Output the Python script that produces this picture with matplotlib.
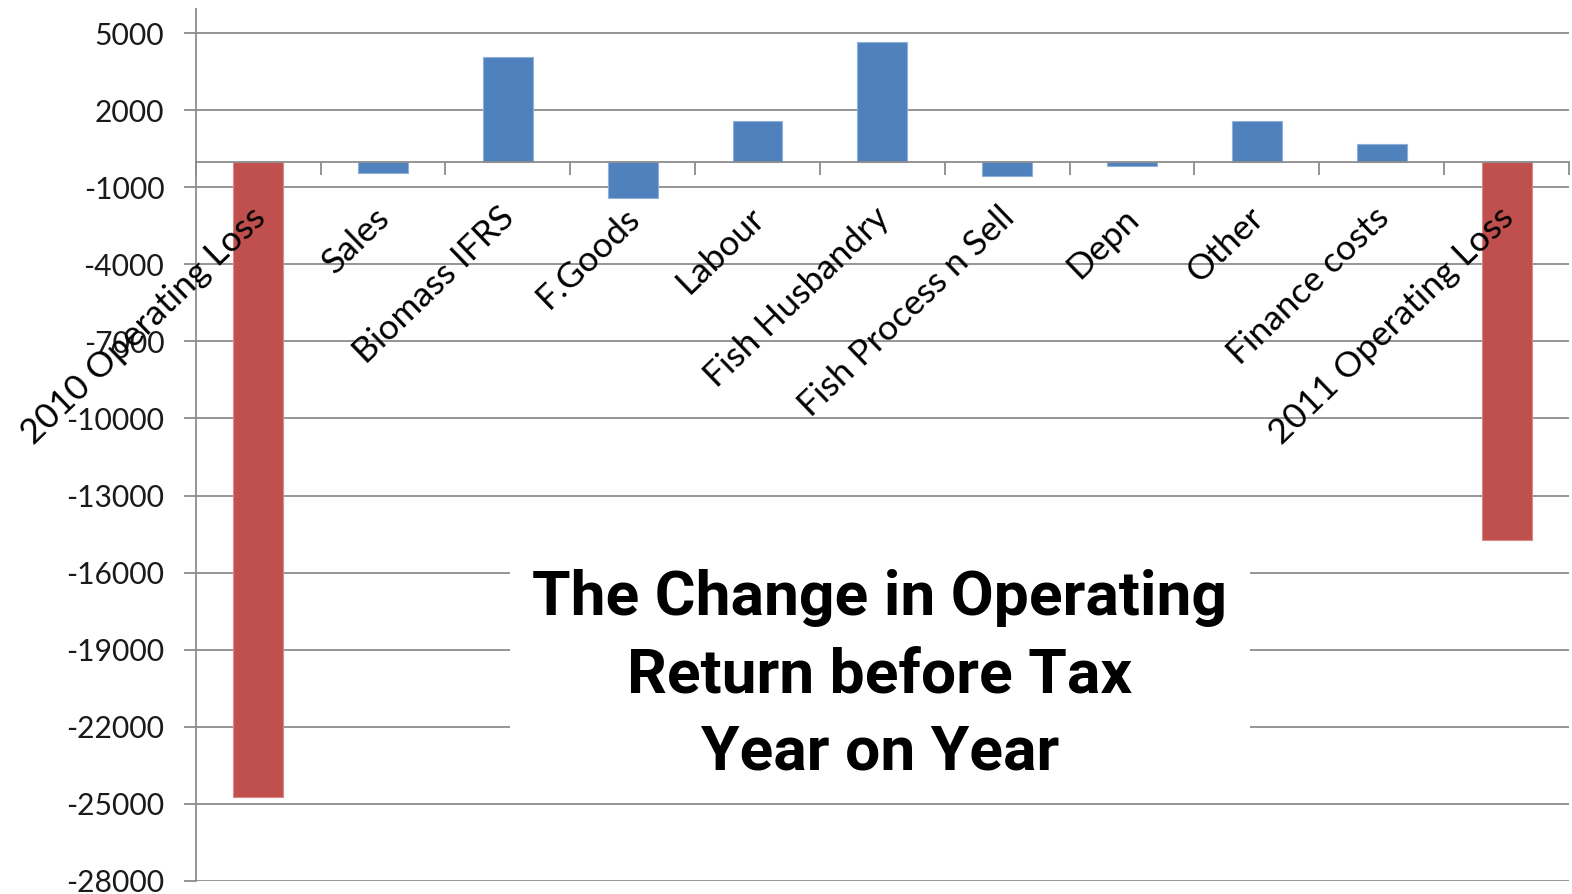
import matplotlib
matplotlib.use('Agg')
import matplotlib.pyplot as plt
from matplotlib import font_manager
from matplotlib.patches import Rectangle
from matplotlib.transforms import ScaledTranslation
import numpy as np

# data
categories = ['2010 Operating Loss', 'Sales', 'Biomass IFRS', 'F.Goods', 'Labour',
              'Fish Husbandry', 'Fish Process n Sell', 'Depn', 'Other',
              'Finance costs', '2011 Operating Loss']
values = [-24750, -450, 4080, -1400, 1600, 4650, -570, -180, 1600, 700, -14730]
is_total = [True, False, False, False, False, False, False, False, False, False, True]
y_ticks = list(range(5000, -28001, -3000))
title_lines = ['The Change in Operating', 'Return before Tax', 'Year on Year']

plt.rcParams['axes.unicode_minus'] = False

W, H = 1572, 894


def has_font(name, weight='normal'):
    try:
        font_manager.findfont(font_manager.FontProperties(family=name, weight=weight),
                              fallback_to_default=False)
        return True
    except ValueError:
        return False


def title_props():
    # a narrow bold face is closest to the original; else a plain bold sans
    for f in font_manager.fontManager.ttflist:
        w = f.weight if isinstance(f.weight, int) else font_manager.weight_dict.get(f.weight, 400)
        if f.name == 'Liberation Sans Narrow' and w >= 600 and f.style == 'normal':
            return font_manager.FontProperties(fname=f.fname)
    if has_font('Roboto', 'bold'):
        return font_manager.FontProperties(family='Roboto', weight='bold')
    return font_manager.FontProperties(family='DejaVu Sans', weight='bold')


label_font = 'Lato' if has_font('Lato') else 'DejaVu Sans'

grid_c = '#8c8c8c'
red, blue = '#C0504D', '#4F81BD'
colors = [red if t else blue for t in is_total]
edges = ['#d98a88' if t else '#8fb0d9' for t in is_total]

fig = plt.figure(figsize=(W / 100, H / 100), dpi=100)
ax = fig.add_axes([0.1245, 0.0149, 0.8736, 0.9747])

x = np.arange(len(categories))
ax.bar(x, values, width=0.4, color=colors, edgecolor=edges, linewidth=0.8, zorder=2)

ax.set_xlim(-0.5, len(categories) - 0.5)
ax.set_ylim(-28000, 5935)

ax.set_yticks(y_ticks)
ax.set_yticklabels([str(v) for v in y_ticks], family=label_font)
ax.yaxis.grid(True, color=grid_c, lw=1.3)
ax.set_axisbelow(True)
ax.xaxis.set_zorder(2.5)

for s in ['top', 'right']:
    ax.spines[s].set_visible(False)
ax.spines['left'].set_color(grid_c)
ax.spines['left'].set_linewidth(1.3)
ax.spines['bottom'].set_position(('data', 0))
ax.spines['bottom'].set_color(grid_c)
ax.spines['bottom'].set_linewidth(1.3)
ax.spines['bottom'].set_zorder(3)

ax.tick_params(axis='y', length=8.6, width=1.3, color=grid_c, pad=14,
               labelsize=21.6, labelcolor='#1a1a1a')

ax.set_xticks(x)
ax.set_xticks(np.arange(-0.5, len(categories), 1), minor=True)
ax.set_xticklabels(categories, rotation=44, ha='right', va='baseline',
                   rotation_mode='anchor', fontsize=25.5, family=label_font)
ax.tick_params(axis='x', which='major', length=0, pad=42)
ax.tick_params(axis='x', which='minor', length=9.4, width=1.3, color=grid_c)
for lab in ax.get_xticklabels():
    lab.set_transform(lab.get_transform() + ScaledTranslation(0.09, 0, fig.dpi_scale_trans))

# white panel behind the title
fig.add_artist(Rectangle((510 / W, 1 - 790 / H), 740 / W, 245 / H,
                         transform=fig.transFigure, fc='white', ec='none', zorder=4))

# size the title so the first line spans about 690 px
tp = title_props()
renderer = fig.canvas.get_renderer()
probe = fig.text(0, 0, title_lines[0], fontproperties=tp, fontsize=50)
tsize = 50 * 695 / probe.get_window_extent(renderer).width
probe.remove()

baselines = [615, 693, 769]
for line, yb in zip(title_lines, baselines):
    fig.text(880 / W, 1 - yb / H, line, ha='center', va='baseline',
             fontproperties=tp, fontsize=tsize, color='black', zorder=5)

fig.savefig('out.png', dpi=100)
